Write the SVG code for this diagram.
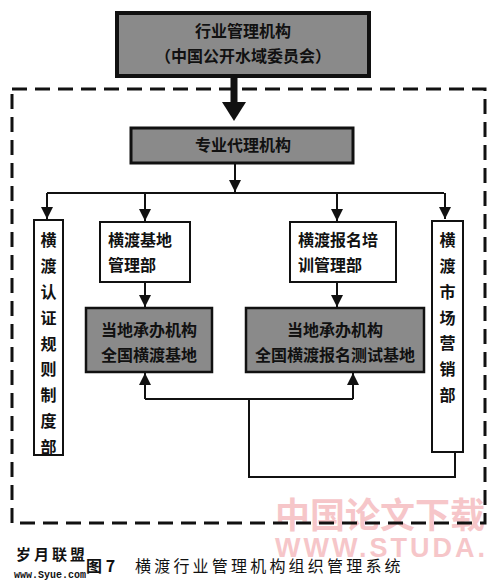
<svg xmlns="http://www.w3.org/2000/svg" width="500" height="583" viewBox="0 0 500 583">
<defs>
<style>
text{font-family:"Noto Sans CJK SC","Noto Sans",sans-serif;fill:#111}
.gray{fill:#8a8a8a;stroke:#111}
.white{fill:#fff;stroke:#111;stroke-width:2}
.t{font-size:16px;font-weight:bold}
.c{text-anchor:middle}
.ln{fill:none;stroke:#111;stroke-width:2}
.v{font-size:16px;font-weight:bold;text-anchor:middle}
.wm{fill:#f6c6c9;font-weight:bold}
</style>
<marker id="ah" viewBox="0 0 10 10" refX="10" refY="5" markerWidth="12" markerHeight="12" markerUnits="userSpaceOnUse" orient="auto">
<path d="M0,0 L10,5 L0,10 z" fill="#111"/>
</marker>
</defs>
<rect width="500" height="583" fill="#fff"/>
<g id="watermark">
<text class="wm" x="275" y="528" font-size="35">中国论文下载</text>
<text class="wm" x="275" y="557" font-size="27" letter-spacing="3" style="font-family:'Liberation Sans',sans-serif">WWW.STUDA.</text>
</g>
<g id="boundary">
<rect x="12" y="89" width="473" height="434" fill="none" stroke="#111" stroke-width="3" stroke-dasharray="15,8"/>
</g>
<g id="connectors">
<path d="M234,77 V104" stroke="#111" stroke-width="7" fill="none"/>
<path d="M222,102 L246,102 L234,121 z" fill="#111"/>
<path class="ln" d="M235,163 V192" marker-end="url(#ah)"/>
<path class="ln" d="M47,193 H444"/>
<path class="ln" d="M47,193 V219" marker-end="url(#ah)"/>
<path class="ln" d="M145,193 V221" marker-end="url(#ah)"/>
<path class="ln" d="M337,193 V221" marker-end="url(#ah)"/>
<path class="ln" d="M445,193 V219" marker-end="url(#ah)"/>
<path class="ln" d="M145,283 V307" marker-end="url(#ah)"/>
<path class="ln" d="M337,283 V307" marker-end="url(#ah)"/>
<path class="ln" d="M145,399 V373" marker-end="url(#ah)"/>
<path class="ln" d="M353,399 V373" marker-end="url(#ah)"/>
<path class="ln" d="M145,399 H353"/>
<path class="ln" d="M249,399 V477 H455 V452"/>
</g>
<g id="top">
<rect class="gray" x="117" y="13" width="252" height="63" stroke-width="4"/>
<text class="t c" x="243" y="37" font-size="17">行业管理机构</text>
<text class="t c" x="243" y="62" font-size="17">（中国公开水域委员会）</text>
</g>
<g id="agency">
<rect class="gray" x="131" y="128" width="222" height="35" stroke-width="3"/>
<text class="t c" x="243" y="151">专业代理机构</text>
</g>
<g id="cert">
<rect class="white" x="34" y="220" width="29" height="235"/>
<text class="v" x="48.5" y="246">横</text>
<text class="v" x="48.5" y="272">渡</text>
<text class="v" x="48.5" y="298">认</text>
<text class="v" x="48.5" y="324">证</text>
<text class="v" x="48.5" y="350">规</text>
<text class="v" x="48.5" y="375">则</text>
<text class="v" x="48.5" y="401">制</text>
<text class="v" x="48.5" y="427">度</text>
<text class="v" x="48.5" y="453">部</text>
</g>
<g id="basemgmt">
<rect class="white" x="100" y="222" width="90" height="60"/>
<text class="t" x="108" y="246" font-size="17">横渡基地</text>
<text class="t" x="108" y="271" font-size="17">管理部</text>
</g>
<g id="signupmgmt">
<rect class="white" x="290" y="222" width="106" height="60"/>
<text class="t" x="298" y="246" font-size="17">横渡报名培</text>
<text class="t" x="298" y="271" font-size="17">训管理部</text>
</g>
<g id="market">
<rect class="white" x="432" y="221" width="31" height="231"/>
<text class="v" x="447.5" y="246">横</text>
<text class="v" x="447.5" y="272">渡</text>
<text class="v" x="447.5" y="298">市</text>
<text class="v" x="447.5" y="324">场</text>
<text class="v" x="447.5" y="349">营</text>
<text class="v" x="447.5" y="375">销</text>
<text class="v" x="447.5" y="401">部</text>
</g>
<g id="base">
<rect class="gray" x="86" y="308" width="126" height="64" stroke-width="2.5"/>
<text class="t c" x="149" y="336" font-size="18">当地承办机构</text>
<text class="t c" x="149" y="361" font-size="18">全国横渡基地</text>
</g>
<g id="testbase">
<rect class="gray" x="246" y="308" width="178" height="64" stroke-width="2.5"/>
<text class="t c" x="335" y="336" font-size="17">当地承办机构</text>
<text class="t c" x="335" y="361" font-size="17">全国横渡报名测试基地</text>
</g>
<g id="caption">
<text x="16" y="560" font-size="15" font-weight="bold" letter-spacing="3">岁月联盟</text>
<text x="14" y="578" font-size="10" font-weight="bold" style="font-family:'Liberation Mono',monospace">www.Syue.com</text>
<text x="86" y="572" font-size="16" font-weight="bold">图 7</text>
<text x="135" y="572" font-size="16" letter-spacing="3.2">横渡行业管理机构组织管理系统</text>
</g>
</svg>
